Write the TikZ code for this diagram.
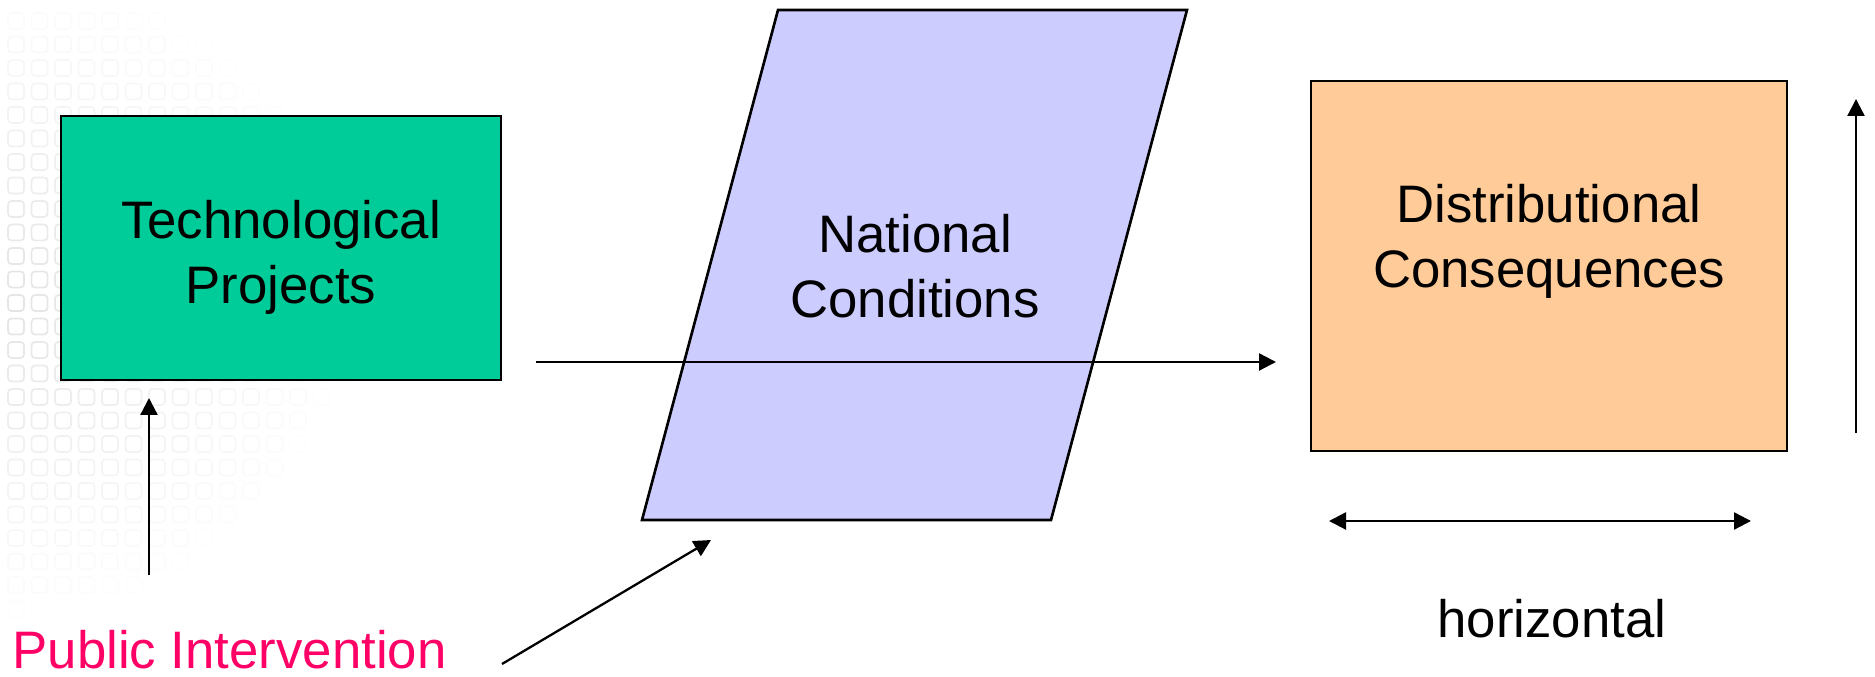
\documentclass[tikz,border=0pt]{standalone}
\usepackage{fontspec}
\setmainfont{Liberation Sans}
\usetikzlibrary{positioning,arrows.meta}
\definecolor{TechGreen}{RGB}{0,204,153}
\definecolor{NatLilac}{RGB}{204,204,255}
\definecolor{DistPeach}{RGB}{255,204,153}
\definecolor{PubPink}{RGB}{255,0,102}
\definecolor{GridGrey}{RGB}{165,165,165}
\tikzset{
  flow/.style={-{Triangle[length=1.7mm,width=1.7mm]},line width=0.65pt},
  twoflow/.style={{Triangle[length=1.7mm,width=1.7mm]}-{Triangle[length=1.7mm,width=1.7mm]},line width=0.65pt},
  box/.style={draw,line width=0.75pt},
  techbox/.style={box,fill=TechGreen,minimum width=4.4cm,minimum height=2.64cm},
  distbox/.style={box,fill=DistPeach,minimum width=4.76cm,minimum height=3.7cm},
  natshape/.style={draw,line width=0.75pt,fill=NatLilac},
  lbl/.style={align=center,font=\fontsize{15}{18.5}\selectfont,inner sep=0pt},
  publbl/.style={lbl,text=PubPink},
  gridsq/.style={draw=GridGrey,line width=0.5pt,rounded corners=1pt}
}

\begin{document}
\begin{tikzpicture}[x=0.01cm,y=-0.01cm]
  \useasboundingbox (0,0) rectangle (1875,677);
  \foreach \i in {0,...,15}{
    \foreach \j in {0,...,26}{
      \pgfmathsetmacro{\sqx}{8+23.5*\i}
      \pgfmathsetmacro{\sqy}{13+23.5*\j}
      \pgfmathsetmacro{\fade}{max(0,0.3*(1-sqrt((\sqx/360)^2+((\sqy-290)/330)^2)))}
      \draw[gridsq,draw opacity=\fade] (\sqx,\sqy) rectangle ++(16,16);
    }
  }
  \node[techbox] (tech) at (281,248) {};
  \node[lbl] (techlbl) at (281,257) {Technological\\Projects};
  \draw[natshape] (642,520) -- (778,10) -- (1187,10) -- (1051,520) -- cycle;
  \node[lbl] (natl) at (915,266) {National\\Conditions};
  \node[distbox] (dist) at (1549,266) {};
  \node[lbl] (distlbl) at (1549,241) {Distributional\\Consequences};
  \node[publbl,anchor=base west] (pub) at (12,669) {Public Intervention};
  \node[lbl,anchor=base] (horiz) at (1552,638) {horizontal};
  \coordinate (pubtail) at (149,575);
  \coordinate (pubtip) at (149,398);
  \coordinate (difftail) at (502,664);
  \coordinate (difftip) at (711,540);
  \coordinate (chainin) at (536,362);
  \coordinate (chainout) at (1276,362);
  \coordinate (vertlow) at (1856,433);
  \coordinate (verthigh) at (1856,99);
  \coordinate (horleft) at (1329,521);
  \coordinate (horright) at (1751,521);
  \draw[flow] (pubtail) -- (pubtip);
  \draw[flow] (difftail) -- (difftip);
  \draw[flow] (chainin) -- (chainout);
  \draw[flow] (vertlow) -- (verthigh);
  \draw[twoflow] (horleft) -- (horright);
\end{tikzpicture}
\end{document}
